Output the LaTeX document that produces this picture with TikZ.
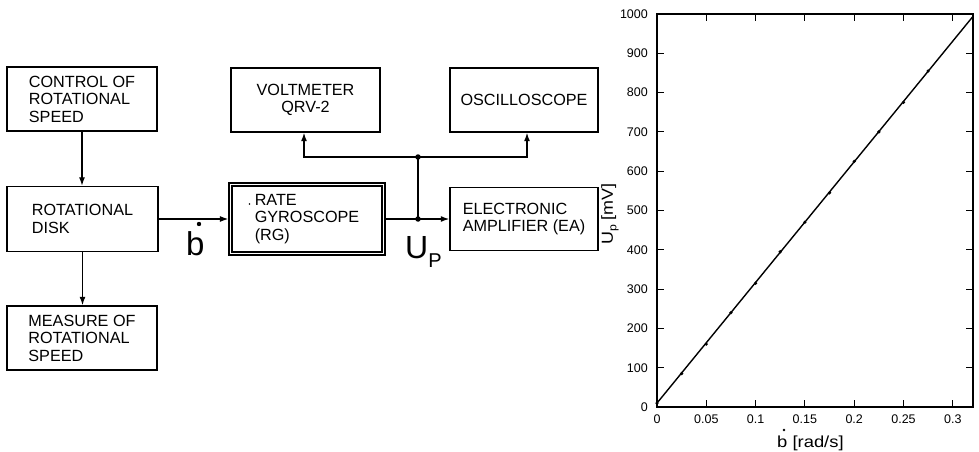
\documentclass[tikz,border=0pt]{standalone}
\usepackage{fontspec}
\setmainfont{Liberation Sans}
\usetikzlibrary{arrows.meta}
\begin{document}
\begin{tikzpicture}[x=1pt,y=-1pt,
  box/.style={draw, line width=1.4pt, inner sep=0pt, font=\fontsize{16.2}{17.5}\selectfont, align=left},
  cbox/.style={box, align=center},
  arr/.style={line width=1.3pt, -{Latex[length=8.5pt,width=6pt]}},
  wire/.style={line width=1.3pt},
  jdot/.style={circle, fill, inner sep=0pt, minimum size=5.5pt},
  tickmark/.style={line width=1.1pt},
  ticklab/.style={font=\fontsize{12.5}{12.5}\selectfont, inner sep=0pt}]
\useasboundingbox (0,0) rectangle (979,452);

% ---------- block diagram ----------
\node[box, minimum width=150, minimum height=64] (ctrl) at (82,99) {CONTROL OF\\ROTATIONAL\\SPEED};
\node[box, minimum width=151, minimum height=65] (disk) at (82.5,219) {ROTATIONAL\\DISK};
\node[box, minimum width=150, minimum height=64] (meas) at (82,338) {MEASURE OF\\ROTATIONAL\\SPEED};
\node[cbox, minimum width=149, minimum height=64] (volt) at (305.5,100) {VOLTMETER\\QRV-2};
\node[cbox, minimum width=148, minimum height=64] (osc) at (524,100) {OSCILLOSCOPE};
\node[box, double, line width=1.2pt, double distance=1.7pt, outer sep=2.1pt,
      minimum width=153, minimum height=69] (rg) at (307,219) {RATE\\GYROSCOPE\\(RG)};
\node[box, minimum width=148, minimum height=63] (ea) at (524,219) {ELECTRONIC\\AMPLIFIER (EA)};
\fill (249.5,204) circle[radius=0.9pt];

\draw[arr] (ctrl.south) -- (ctrl.south |- disk.north);
\draw[arr] (disk.south) -- (disk.south |- meas.north);
\draw[arr] (disk.east) -- (rg.west);

\coordinate (j1) at (418,219);
\coordinate (j2) at (418,157);
\coordinate (vx) at (304,157);
\coordinate (ox) at (527,157);
\draw[wire] (rg.east) -- (j1);
\draw[arr] (j1) -- (ea.west);
\draw[wire] (j1) -- (j2);
\draw[arr] (j2) -- (vx) -- (vx |- volt.south);
\draw[arr] (j2) -- (ox) -- (ox |- osc.south);
\node[jdot] (jd1) at (j1) {};
\node[jdot] (jd2) at (j2) {};

\node[inner sep=0pt, anchor=base west, font=\fontsize{33}{33}\selectfont] (bl) at (186,255) {b};
\fill (199,224) circle[radius=2.2pt];
\node[inner sep=0pt, anchor=base west] (up) at (405,258)
  {\fontsize{32}{32}\selectfont U\raisebox{-9pt}{\fontsize{20}{20}\selectfont P}};

% ---------- plot ----------
\begin{scope}[shift={(657,407)}, x=986pt, y=0.393pt]
  \draw[line width=1.4pt] (0,0) rectangle (0.3205,1000);
  \foreach \t in {0.05,0.1,0.15,0.2,0.25,0.3} {
    \draw[tickmark] (\t,0) -- ++(0,17);
    \draw[tickmark] (\t,1000) -- ++(0,-17);
  }
  \foreach \v in {100,200,...,900} {
    \draw[tickmark] (0,\v) -- ++(0.0068,0);
    \draw[tickmark] (0.3205,\v) -- ++(-0.0068,0);
  }
  \foreach \t/\l in {0/0,0.05/0.05,0.1/0.1,0.15/0.15,0.2/0.2,0.25/0.25,0.3/0.3}
    \node[ticklab, yshift=-12pt] at (\t,0) {\l};
  \foreach \v in {0,100,...,1000}
    \node[ticklab, anchor=east, xshift=-9pt] at (0,\v) {\v};
  \draw[line width=1.4pt] (0,10) -- (0.3205,994);
  \foreach \t/\v in {0/10,0.025/85,0.05/160,0.075/240,0.1/315,0.125/395,0.15/470,0.175/545,0.2/625,0.225/700,0.25/775,0.275/855}
    \fill (\t,\v) circle[radius=1.8pt];
\end{scope}

\node[inner sep=0pt, anchor=base west, font=\fontsize{16}{16}\selectfont] (xlab) at (777,447.5)
  {\scalebox{1.15}[1]{b [rad/s]}};
\fill (784,430) circle[radius=1.4pt];
\node[inner sep=0pt, rotate=90, font=\fontsize{16}{16}\selectfont] (ylab) at (610,214)
  {\scalebox{1.12}[1]{U\raisebox{-3.5pt}{\fontsize{11}{11}\selectfont p} [mV]}};
\end{tikzpicture}
\end{document}
